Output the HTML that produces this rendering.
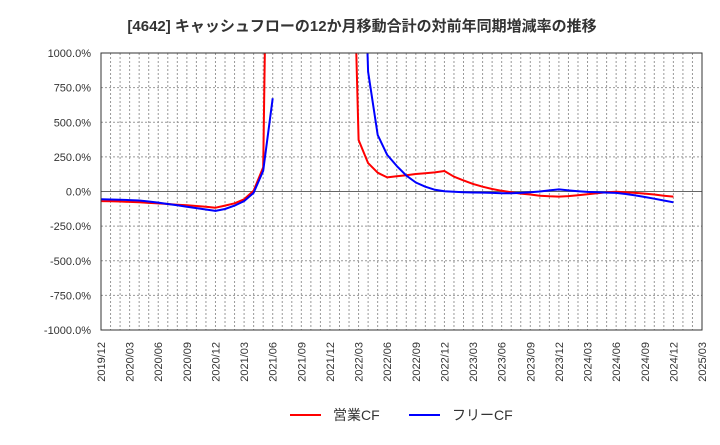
<!DOCTYPE html>
<html><head><meta charset="utf-8"><style>
body{margin:0;background:#fff;}
svg text{font-family:"Liberation Sans","Noto Sans CJK JP",sans-serif;}
</style></head><body>
<svg id="c" width="720" height="440" xmlns="http://www.w3.org/2000/svg">
<text x="362" y="31" text-anchor="middle" font-size="15" font-weight="bold" fill="#333">[4642]  キャッシュフローの12か月移動合計の対前年同期増減率の推移</text>
<defs><clipPath id="clip"><rect x="101" y="53" width="601" height="277"/></clipPath></defs>
<g id="grid"></g><g id="series" clip-path="url(#clip)"></g><g id="axes"></g>
<g>
<line x1="290" y1="415" x2="321" y2="415" stroke="#f00" stroke-width="2"/>
<text x="333" y="420" font-size="14" fill="#333">営業CF</text>
<line x1="409" y1="415" x2="440" y2="415" stroke="#00f" stroke-width="2"/>
<text x="452" y="420" font-size="14" fill="#333">フリーCF</text>
</g>
</svg>
<script>
const yTicks=[1000,750,500,250,0,-250,-500,-750,-1000];
const xLabels=["2019/12","2020/03","2020/06","2020/09","2020/12","2021/03","2021/06","2021/09","2021/12","2022/03","2022/06","2022/09","2022/12","2023/03","2023/06","2023/09","2023/12","2024/03","2024/06","2024/09","2024/12","2025/03"];
const operatingCF=[-69,-70,-72,-75,-78,-82,-86,-90,-95,-100,-105,-110,-117,-102,-85,-56,5,175,5000,5000,5000,5000,5000,5000,5000,5000,3000,372,205,136,102,110,118,126,132,138,148,107,80,55,35,18,5,-5,-15,-22,-30,-35,-37,-33,-27,-20,-12,-5,-2,-5,-10,-15,-22,-30,-37];
const freeCF=[-56,-58,-60,-62,-65,-72,-80,-90,-100,-110,-120,-130,-140,-126,-102,-69,-10,150,673,null,null,null,null,null,null,null,null,3000,865,408,264,185,115,65,35,12,2,-2,-5,-7,-8,-10,-12,-12,-10,-5,0,8,15,8,2,-3,-6,-8,-10,-18,-28,-40,-52,-65,-78];
const X0=101,X1=702,Y0=53,Y1=330;
const xs=m=>X0+(X1-X0)*m/63;
const ys=v=>Y0+(Y1-Y0)*(1000-v)/2000;
const ns="http://www.w3.org/2000/svg";
function mk(tag,attrs,parent){const e=document.createElementNS(ns,tag);for(const k in attrs)e.setAttribute(k,attrs[k]);document.getElementById(parent).appendChild(e);return e;}
for(let m=1;m<63;m++){const g=mk("line",{x1:xs(m),x2:xs(m),y1:Y0,y2:Y1,stroke:"#999","stroke-dasharray":"2,2","stroke-width":1},"grid");

}
yTicks.forEach(v=>{const y=ys(v);
if(v!==1000&&v!==-1000){const l=mk("line",{x1:X0,x2:X1,y1:y,y2:y,stroke:v===0?"#666":"#999","stroke-dasharray":v===0?"none":"2,2","stroke-width":1},"grid");

}
const t=mk("text",{x:91,y:y+4,"text-anchor":"end","font-size":11,fill:"#333"},"axes");t.textContent=v.toFixed(1)+"%";

});
xLabels.forEach((s,i)=>{const x=xs(i*3);const t=mk("text",{transform:`translate(${x+4},342) rotate(-90)`,"text-anchor":"end","font-size":11,fill:"#333"},"axes");t.textContent=s;

});
const fr=mk("rect",{x:X0,y:Y0,width:X1-X0,height:Y1-Y0,fill:"none",stroke:"#333","stroke-width":1},"axes");


function path(arr,color,name){let d="",pen=false;arr.forEach((v,i)=>{if(v===null){pen=false;return;}d+=(pen?"L":"M")+xs(i).toFixed(1)+","+ys(v).toFixed(1);pen=true;});
const p=mk("path",{d:d,fill:"none",stroke:color,"stroke-width":2,"stroke-linejoin":"round"},"series");

}
path(operatingCF,"#f00","operating-cf-line");
path(freeCF,"#00f","free-cf-line");
</script>
</body></html>
